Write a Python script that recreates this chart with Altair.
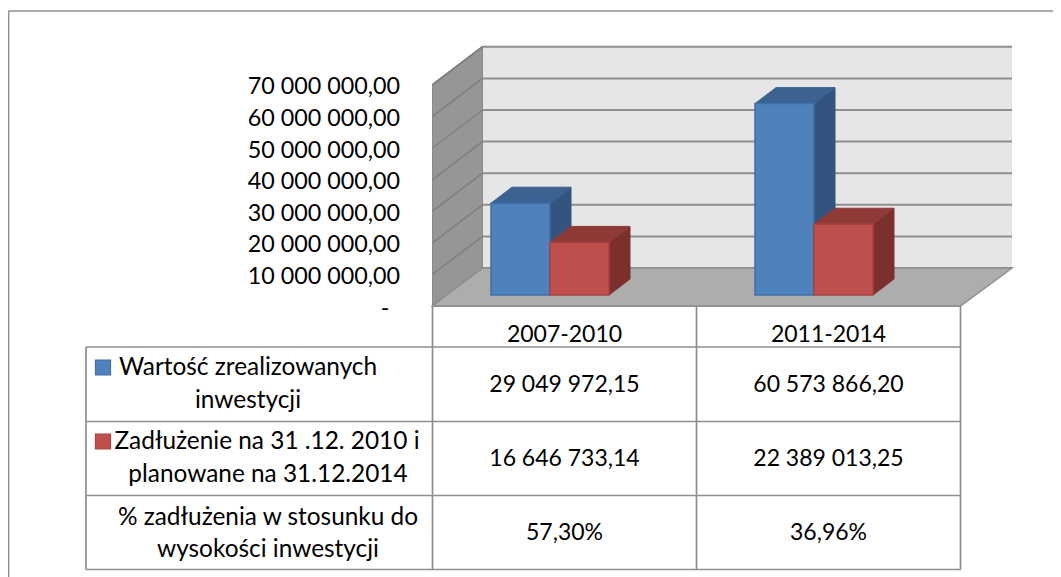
import altair as alt
import pandas as pd

# ---- chart values ----
categories = ["2007-2010", "2011-2014"]
invest = [29049972.15, 60573866.20]
debt = [16646733.14, 22389013.25]
tick_values = [0, 10000000, 20000000, 30000000, 40000000, 50000000, 60000000, 70000000]
invest_text = ["29 049 972,15", "60 573 866,20"]
debt_text = ["16 646 733,14", "22 389 013,25"]
pct_text = ["57,30%", "36,96%"]
zero_label = "-"
row_labels = [
    ["Wartość zrealizowanych", "inwestycji"],
    ["Zadłużenie na 31 .12. 2010 i", "planowane na 31.12.2014"],
    ["% zadłużenia w stosunku do", "wysokości  inwestycji"],
]

# ---- layout (page pixels) ----
FONT = "Lato"
FS = 23
FS_AXIS = 23.3
FS_LABEL = 24.4
X0, X1, Y0, Y1 = 432.5, 1012.0, 46.0, 306.0   # plot box
PPM = 3.16 / 1e6                               # pixels per unit of value
DX, DY = 50.0, 38.0                            # wall depth
COLS = [432.5, 696.5, 960.5]
ROWS = [306.0, 347.0, 421.5, 495.5, 569.5]
TABLE_L = 86.0
BAR_W, BAR_DX, BAR_DY, BAR_GAP = 59.0, 21.0, 16.0, 11.0
GRID = "#8e8e8e"
GRID_SIDE = "#7f7f7f"
BLUE = dict(front="#4f81bd", top="#3b6291", side="#32547e", stroke="#3f6fa8")
RED = dict(front="#c0504d", top="#8f3a37", side="#7b302e", stroke="#a8423f")

def depth_val(px):
    return px / PPM

x_scale = alt.Scale(domain=[X0, X1], range=[0, X1 - X0], nice=False, zero=False, clamp=False)
y_val_scale = alt.Scale(domain=[0, (Y1 - Y0) / PPM], range=[Y1 - Y0, 0], nice=False, zero=False)
y_page_scale = alt.Scale(domain=[Y0, Y1], range=[0, Y1 - Y0], nice=False, zero=False)
X = alt.X("x:Q", scale=x_scale, axis=None)

label_expr = ("datum.value == 0 ? '' : "
              "replace(replace(format(datum.value, ',.2f'), /,/g, ' '), '.', ',')")
y_axis = alt.Axis(
    values=tick_values, labelExpr=label_expr, domain=False, ticks=False, grid=False,
    labelPadding=33, labelFont=FONT, labelFontSize=FS_AXIS, labelColor="#000000",
    labelOffset=2, labelOverlap=False, labelBound=False, labelFlush=False, title=None)
Yv = alt.Y("y:Q", scale=y_val_scale, axis=y_axis, title=None)

# ---- walls ----
top_val = (Y1 - Y0 - DY) / PPM
back_wall = alt.Chart(pd.DataFrame({"x": [X0 + DX], "x2": [X1], "y": [0 + depth_val(DY)], "y2": [depth_val(DY) + top_val]})).mark_rect(color="#e6e6e6").encode(
    x=X, x2="x2:Q", y=Yv, y2="y2:Q")
side_wall = alt.Chart(pd.DataFrame({"x": [X0, X0 + DX], "y": [top_val, top_val + depth_val(DY)], "y2": [0, depth_val(DY)]})).mark_area(
    color="#969696", stroke="#8a8a8a", strokeWidth=1).encode(x=X, y=Yv, y2="y2:Q")
floor = alt.Chart(pd.DataFrame({"y": [0, depth_val(DY)], "x": [X0, X0 + DX], "x2": [COLS[-1], X1]})).mark_area(
    orient="horizontal", color="#adadad", stroke="#8e8e8e", strokeWidth=1.5).encode(x=X, x2="x2:Q", y=Yv)

side_rows, back_rows = [], []
for t in tick_values:
    side_rows.append({"t": t, "x": X0, "y": t})
    side_rows.append({"t": t, "x": X0 + DX, "y": t + depth_val(DY)})
    back_rows.append({"t": t, "x": X0 + DX, "y": t + depth_val(DY)})
    back_rows.append({"t": t, "x": X1, "y": t + depth_val(DY)})
grid_side = alt.Chart(pd.DataFrame(side_rows)).mark_line(color=GRID_SIDE, strokeWidth=1.5).encode(x=X, y=Yv, detail="t:N")
grid_back = alt.Chart(pd.DataFrame(back_rows)).mark_line(color=GRID, strokeWidth=2).encode(x=X, y=Yv, detail="t:N")

# ---- bars ----
def bar_layers(values, pal, shift):
    out = []
    side, top, front = [], [], []
    base = depth_val(BAR_GAP)
    for i, v in enumerate(values):
        cx = (COLS[i] + COLS[i + 1]) / 2
        left = cx - BAR_W - 14.5 + shift
        right = left + BAR_W
        yb = base
        yt = base + v
        d = depth_val(BAR_DY)
        side += [{"id": i, "x": right, "y": yb, "y2": yt},
                 {"id": i, "x": right + BAR_DX, "y": yb + d, "y2": yt + d}]
        top += [{"id": i, "y": yt, "x": left, "x2": right},
                {"id": i, "y": yt + d, "x": left + BAR_DX, "x2": right + BAR_DX}]
        front.append({"x": left, "x2": right, "y": yb, "y2": yt})
    out.append(alt.Chart(pd.DataFrame(side)).mark_area(color=pal["side"], stroke=pal["side"], strokeWidth=1)
               .encode(x=X, y=Yv, y2="y2:Q", detail="id:N"))
    out.append(alt.Chart(pd.DataFrame(top)).mark_area(orient="horizontal", color=pal["top"], stroke=pal["top"], strokeWidth=1)
               .encode(x=X, x2="x2:Q", y=Yv, detail="id:N"))
    out.append(alt.Chart(pd.DataFrame(front)).mark_rect(color=pal["front"], stroke=pal["stroke"], strokeWidth=1.5)
               .encode(x=X, x2="x2:Q", y=Yv, y2="y2:Q"))
    return out

plot3d = alt.layer(back_wall, side_wall, grid_side, grid_back, floor,
                   *bar_layers(invest, BLUE, 0), *bar_layers(debt, RED, BAR_W))

# ---- table, frame (page-pixel scale) ----
Yp = alt.Y("y:Q", scale=y_page_scale, axis=None)
segs = [
    {"x": 8.5, "x2": 1061, "y": 11, "y2": 11},
    {"x": 8.5, "x2": 8.5, "y": 11, "y2": 577},
]
for c in COLS:
    segs.append({"x": c, "x2": c, "y": ROWS[0], "y2": ROWS[-1]})
segs.append({"x": TABLE_L, "x2": TABLE_L, "y": ROWS[1], "y2": ROWS[-1]})
for j, r in enumerate(ROWS):
    segs.append({"x": COLS[0] if j == 0 else TABLE_L, "x2": COLS[-1], "y": r, "y2": r})
rules = alt.Chart(pd.DataFrame(segs)).mark_rule(color=GRID, strokeWidth=1.7).encode(
    x=X, x2="x2:Q", y=Yp, y2="y2:Q")

texts = [{"x": 385, "y": 309, "t": zero_label}]
for i, c in enumerate(categories):
    cx = (COLS[i] + COLS[i + 1]) / 2
    texts.append({"x": cx, "y": 335, "t": c})
    texts.append({"x": cx, "y": 385, "t": invest_text[i]})
    texts.append({"x": cx, "y": 459, "t": debt_text[i]})
    texts.append({"x": cx, "y": 533, "t": pct_text[i]})
table_text = alt.Chart(pd.DataFrame(texts)).mark_text(
    font=FONT, fontSize=FS, color="#000000", align="center", baseline="middle").encode(
    x=X, y=Yp, text="t:N")

label_pos = [[(248, 368), (248, 401)], [(267, 442), (268, 475)], [(268, 518), (268, 550)]]
label_rows = []
for lines, poss in zip(row_labels, label_pos):
    for line, (lx, ly) in zip(lines, poss):
        label_rows.append({"x": lx, "y": ly, "t": line})
label_text = alt.Chart(pd.DataFrame(label_rows)).mark_text(
    font=FONT, fontSize=FS_LABEL, color="#000000", align="center", baseline="middle").encode(
    x=X, y=Yp, text="t:N")

swatches = alt.Chart(pd.DataFrame([
    {"x": 95.5, "x2": 110.5, "y": 360, "y2": 375, "c": "a"},
    {"x": 95.5, "x2": 110.5, "y": 434, "y2": 449, "c": "b"},
])).mark_rect(strokeWidth=1.2).encode(
    x=X, x2="x2:Q", y=Yp, y2="y2:Q",
    fill=alt.Fill("c:N", scale=alt.Scale(domain=["a", "b"], range=[BLUE["front"], RED["front"]]), legend=None),
    stroke=alt.Stroke("c:N", scale=alt.Scale(domain=["a", "b"], range=[BLUE["stroke"], RED["stroke"]]), legend=None))

table = alt.layer(rules, swatches, table_text, label_text)

chart = alt.layer(plot3d, table).resolve_scale(y="independent").properties(
    width=X1 - X0, height=Y1 - Y0,
    autosize=alt.AutoSizeParams(type="none"),
    padding={"left": X0 - 8, "top": Y0 - 8, "right": 1053 - X1, "bottom": 577 - Y1},
    background="#ffffff",
).configure_view(stroke=None)

chart.save("out.html", embed_options={"renderer": "svg", "actions": False})
